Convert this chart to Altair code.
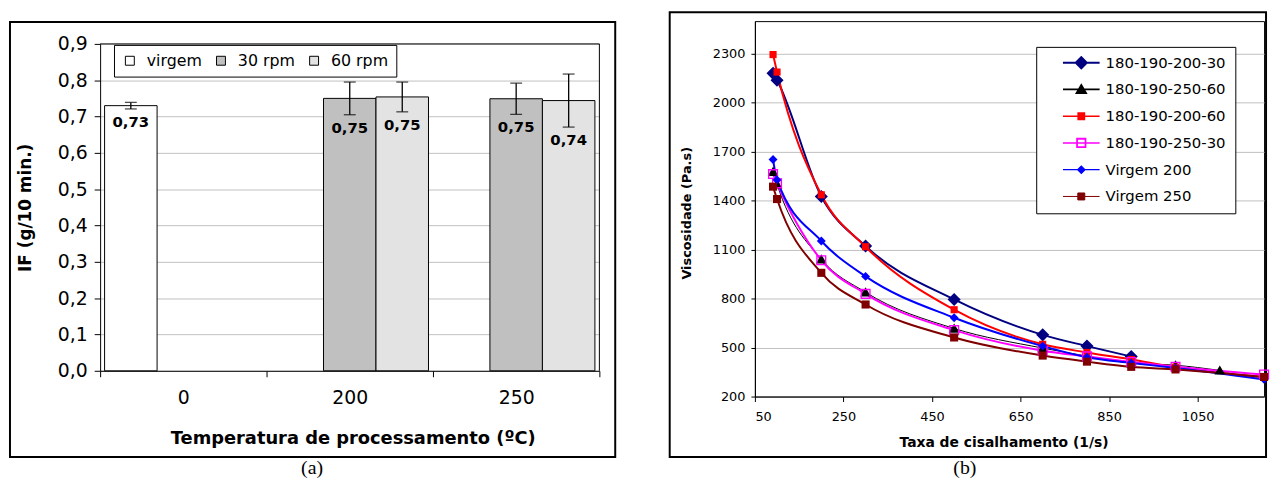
import altair as alt
import pandas as pd

# ---------------- Panel (a): IF bar chart ----------------
temp_categories = ["0", "200", "250"]
group_names = ["virgem", "30 rpm", "60 rpm"]
group_fills = ["#ffffff", "#c0c0c0", "#e3e3e3"]
bar_temp = ["0", "200", "200", "250", "250"]
bar_group = ["virgem", "30 rpm", "60 rpm", "30 rpm", "60 rpm"]
bar_value = [0.730, 0.750, 0.754, 0.749, 0.744]
bar_error = [0.009, 0.045, 0.041, 0.043, 0.073]
if_ticks = [0.0, 0.1, 0.2, 0.3, 0.4, 0.5, 0.6, 0.7, 0.8, 0.9]

# ---------------- Panel (b): viscosity curves ----------------
series_names = ["180-190-200-30", "180-190-250-60", "180-190-200-60",
                "180-190-250-30", "Virgem 200", "Virgem 250"]
series_colors = ["#000080", "#000000", "#ff0000", "#ff00ff", "#0000ff", "#800000"]
series_widths = [2, 1, 2, 2, 2, 2]

rate_200_30 = [91, 100, 200, 300, 500, 700, 800, 900]
visc_200_30 = [2180, 2138, 1426, 1122, 795, 578, 509, 445]
rate_250_60 = [91, 100, 200, 300, 500, 700, 800, 900, 1000, 1100]
visc_250_60 = [1577, 1500, 1041, 839, 617, 497, 448, 405, 392, 360]
rate_200_60 = [91, 100, 200, 300, 500, 700, 800, 900, 1000, 1200]
visc_200_60 = [2295, 2188, 1436, 1118, 732, 520, 470, 427, 380, 320]
rate_250_30 = [91, 100, 200, 300, 500, 700, 800, 900, 1000, 1200]
visc_250_30 = [1563, 1506, 1035, 829, 607, 481, 446, 412, 383, 335]
rate_v200 = [91, 100, 200, 300, 500, 700, 800, 900, 1000, 1200]
visc_v200 = [1652, 1527, 1153, 936, 683, 509, 441, 406, 375, 305]
rate_v250 = [91, 100, 200, 300, 500, 700, 800, 900, 1000, 1200]
visc_v250 = [1486, 1410, 958, 764, 562, 451, 414, 382, 366, 320]

x_ticks_b = [50, 250, 450, 650, 850, 1050]
y_ticks_b = [200, 500, 800, 1100, 1400, 1700, 2000, 2300]

# marker glyphs (unit = 6 px) and legend glyphs (line + marker, unit = 18.5 px)
point_paths = [
    "M-1.1,0L0,-1.1L1.1,0L0,1.1Z",
    "M0,-0.85L0.9,0.7L-0.9,0.7Z",
    "M-0.6,-0.6H0.6V0.6H-0.6Z",
    "M-0.85,-0.85H0.85V0.85H-0.85Z M-0.62,-0.62V0.62H0.62V-0.62Z",
    "M-0.75,0L0,-0.75L0.75,0L0,0.75Z",
    "M-0.68,-0.68H0.68V0.68H-0.68Z",
]
legend_paths = [
    "M-1,0H1 M-0.3,0L0,-0.3L0.3,0L0,0.3Z",
    "M-1,0H1 M0,-0.24L0.26,0.2L-0.26,0.2Z",
    "M-1,0H1 M-0.17,-0.17H0.17V0.17H-0.17Z",
    "M-1,0H1 M-0.24,-0.24H0.24V0.24H-0.24Z M-0.22,-0.22V0.22H0.22V-0.22Z",
    "M-1,0H1 M-0.2,0L0,-0.2L0.2,0L0,0.2Z",
    "M-1,0H1 M-0.19,-0.19H0.19V0.19H-0.19Z",
]

FONT = "DejaVu Sans"

# ======================= Panel (a) =======================
# the view spans from the top of panel (b)'s plot; the y range starts 23 px lower
W1, H1, TOP1 = 504, 353, 23
dfa = pd.DataFrame({"temp": bar_temp, "grupo": bar_group,
                    "IF": bar_value, "err": bar_error})
dfa["lo"] = dfa["IF"] - dfa["err"]
dfa["hi"] = dfa["IF"] + dfa["err"]
dfa["label"] = [f"{v:.2f}".replace(".", ",") for v in bar_value]
dfa_border = pd.DataFrame({"lo": [if_ticks[0]], "hi": [if_ticks[-1]]})

xa = alt.X("temp:N", sort=temp_categories,
           scale=alt.Scale(domain=temp_categories, paddingInner=0, paddingOuter=0),
           axis=alt.Axis(title="Temperatura de processamento (ºC)", tickBand="extent",
                         labelAngle=0, labelFontSize=19, labelPadding=12, tickSize=6,
                         titleFontSize=18, titleFontWeight="bold", titleX=W1 / 2 + 3,
                         titleY=68, titleBaseline="middle", titleAlign="center"))
xoff = alt.XOffset("grupo:N", scale=alt.Scale(domain=group_names, paddingInner=0,
                                              paddingOuter=0.085))
ya_scale = alt.Scale(domain=[if_ticks[0], if_ticks[-1]], range=[H1, TOP1], nice=False,
                     zero=True)
ya_axis = alt.Axis(values=if_ticks, grid=True, gridColor="#c0c0c0", labelOverlap=False,
                   labelExpr="replace(format(datum.value, '.1f'), '.', ',')",
                   labelFontSize=19, labelPadding=7, tickSize=6,
                   title="IF (g/10 min.)", titleFontSize=17, titleFontWeight="bold",
                   titleX=-75, titleY=TOP1 + (H1 - TOP1) / 2, titleAngle=-90,
                   titleAlign="center", titleBaseline="middle")


def ya(field):
    return alt.Y(f"{field}:Q", scale=ya_scale, axis=ya_axis)


one = pd.DataFrame({"k": [0]})

frame_a = alt.Chart(one).mark_rect(fillOpacity=0, stroke="black", strokeWidth=2).encode(
    x=alt.value(-91), x2=alt.value(W1 + 16), y=alt.value(1), y2=alt.value(440))
cap_a = alt.Chart(one).mark_text(font="Liberation Serif", fontSize=20, color="black").encode(
    x=alt.value(214), y=alt.value(451), text=alt.value("(a)"))

bars = alt.Chart(dfa).mark_bar(stroke="black", strokeWidth=1).encode(
    x=xa, xOffset=xoff, y=ya("IF"),
    color=alt.Color("grupo:N", scale=alt.Scale(domain=group_names, range=group_fills),
                    legend=alt.Legend(title=None, orient="none", legendX=14, legendY=24,
                                      direction="horizontal", symbolType="square",
                                      symbolSize=81, symbolStrokeColor="black",
                                      symbolStrokeWidth=1, labelFontSize=16, labelFont=FONT,
                                      labelColor="black", labelOffset=9, columnPadding=11,
                                      padding=8, symbolOffset=0, strokeColor="black",
                                      fillColor="white")))
err_rule = alt.Chart(dfa).mark_rule(color="black", strokeWidth=1.3).encode(
    x=xa, xOffset=xoff, y=ya("lo"), y2="hi:Q")
cap_lo = alt.Chart(dfa).mark_tick(color="black", thickness=1.3, size=12).encode(
    x=xa, xOffset=xoff, y=ya("lo"))
cap_hi = alt.Chart(dfa).mark_tick(color="black", thickness=1.3, size=12).encode(
    x=xa, xOffset=xoff, y=ya("hi"))
labels = alt.Chart(dfa).mark_text(font=FONT, fontSize=15, fontWeight="bold",
                                   baseline="middle", dy=13, color="black").encode(
    x=xa, xOffset=xoff, y=ya("lo"), text="label:N")
# plot-area border (top and right) following the y scale
border_top = alt.Chart(dfa_border).mark_rule(color="black", strokeWidth=1).encode(
    x=alt.value(0), x2=alt.value(W1), y=ya("hi"))
border_right = alt.Chart(dfa_border).mark_rule(color="black", strokeWidth=1).encode(
    x=alt.value(W1), y=ya("lo"), y2="hi:Q")

left = alt.layer(frame_a, bars, err_rule, cap_lo, cap_hi, labels, border_top,
                 border_right, cap_a).properties(
    width=W1, height=H1, view=alt.ViewBackground(stroke="transparent"))

# ======================= Panel (b) =======================
W2, H2 = 514, 379
rates = [rate_200_30, rate_250_60, rate_200_60, rate_250_30, rate_v200, rate_v250]
viscs = [visc_200_30, visc_250_60, visc_200_60, visc_250_30, visc_v200, visc_v250]
rows = []
for name, xs, vs in zip(series_names, rates, viscs):
    for xv, vv in zip(xs, vs):
        rows.append({"serie": name, "taxa": xv, "visc": vv})
dfb = pd.DataFrame(rows)

xb = alt.X("taxa:Q", scale=alt.Scale(domain=[50, 1200], nice=False, zero=False),
           axis=alt.Axis(values=x_ticks_b, grid=False, labelFontSize=13, labelPadding=9,
                         tickSize=5, format="d", labelOverlap=False,
                         title="Taxa de cisalhamento (1/s)", titleFontSize=14,
                         titleFontWeight="bold", titleX=W2 / 2 - 6, titleY=46,
                         titleBaseline="middle", titleAlign="center"))
yb = alt.Y("visc:Q", scale=alt.Scale(domain=[200, 2500], nice=False, zero=False),
           axis=alt.Axis(values=y_ticks_b, grid=True, gridColor="#c0c0c0", labelFontSize=13,
                         labelPadding=6, tickSize=4, format="d", labelOverlap=False,
                         title="Viscosidade (Pa.s)",
                         titleFontSize=13, titleFontWeight="bold", titleX=-69,
                         titleY=H2 / 2 + 4, titleAngle=-90, titleAlign="center",
                         titleBaseline="middle"))

line_layers = []
point_layers = []
for i, name in enumerate(series_names):
    sub = alt.Chart(dfb).transform_filter(alt.datum.serie == name)
    line_layers.append(sub.mark_line(interpolate="monotone", color=series_colors[i],
                                     strokeWidth=series_widths[i]).encode(x=xb, y=yb))
    point_layers.append(sub.mark_point(filled=True, size=144, opacity=1,
                                       shape=point_paths[i], color=series_colors[i]).encode(
        x=xb, y=yb))

leg = alt.Legend(title=None, orient="none", legendX=284, legendY=26, symbolSize=1369,
                 symbolOffset=17, labelOffset=5, labelFontSize=15, labelFont=FONT,
                 labelColor="black", rowPadding=12, clipHeight=14, padding=9,
                 strokeColor="black", fillColor="white", symbolOpacity=1,
                 labelExpr="datum.label + '\u00a0\u00a0\u00a0\u00a0'")
legend_layer = alt.Chart(dfb).transform_filter("false").mark_point(filled=True, size=144).encode(
    x=xb, y=yb,
    fill=alt.Fill("serie:N", scale=alt.Scale(domain=series_names, range=series_colors),
                  legend=leg),
    stroke=alt.Stroke("serie:N", scale=alt.Scale(domain=series_names, range=series_colors),
                      legend=leg),
    strokeWidth=alt.StrokeWidth("serie:N", scale=alt.Scale(domain=series_names,
                                                           range=series_widths), legend=leg),
    shape=alt.Shape("serie:N", scale=alt.Scale(domain=series_names, range=legend_paths),
                    legend=leg))

frame_b = alt.Chart(one).mark_rect(fillOpacity=0, stroke="black", strokeWidth=2).encode(
    x=alt.value(-86), x2=alt.value(W2 + 2), y=alt.value(-9), y2=alt.value(440))
cap_b = alt.Chart(one).mark_text(font="Liberation Serif", fontSize=20, color="black").encode(
    x=alt.value(212), y=alt.value(451), text=alt.value("(b)"))

right = alt.layer(frame_b, *line_layers, *point_layers, legend_layer, cap_b).properties(
    width=W2, height=H2)

chart = alt.hconcat(left, right, spacing=51).resolve_scale(
    color="independent", fill="independent", stroke="independent",
    strokeWidth="independent", shape="independent"
).resolve_legend(
    color="independent", fill="independent", stroke="independent",
    strokeWidth="independent", shape="independent"
).properties(
    padding={"left": 0, "top": 0, "right": 0, "bottom": 0}
).configure_view(stroke="black", strokeWidth=1).configure_axis(
    labelFont=FONT, titleFont=FONT, labelColor="black", titleColor="black",
    domainColor="black", tickColor="black", domainWidth=1
).configure_text(font=FONT)

chart.save("out.html", embed_options={"renderer": "svg", "actions": False})
